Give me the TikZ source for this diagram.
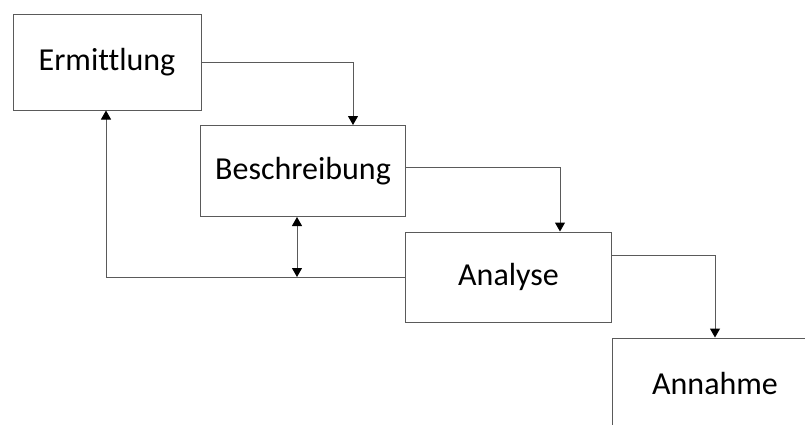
\documentclass[tikz,border=0pt]{standalone}
\usepackage{fontspec}
\setmainfont[RawFeature=-liga]{Carlito}
\usetikzlibrary{arrows.meta}
\definecolor{linegray}{HTML}{5A5A5A}
\begin{document}
\begin{tikzpicture}[x=1pt,y=-1pt,
  tip/.tip={Triangle[length=9pt,width=10pt,color=black]},
  stagebox/.style={draw=linegray, line width=1pt, fill=white, minimum width=#1,
    inner sep=0pt, font=\fontsize{32}{36}\selectfont, text=black},
  flow/.style={draw=linegray, line width=1pt, -tip},
  both/.style={draw=linegray, line width=1pt, tip-tip}]
  \useasboundingbox (0,0) rectangle (805,424);
  \clip (0,0) rectangle (805,424);
  % process stages
  \node[stagebox=188pt, minimum height=96pt] (E) at (107,62) {Ermittlung};
  \node[stagebox=205pt, minimum height=91pt] (B) at (303,171) {Beschreibung};
  \node[stagebox=206pt, minimum height=90pt] (A) at (508.5,277) {Analyse};
  \node[stagebox=206pt, minimum height=90pt] (N) at (715,383) {Annahme};
  % forward flow
  \draw[flow] (E.east) -| ([xshift=50pt]B.north);
  \draw[flow] ([yshift=4pt]B.east) -| ([xshift=51.5pt]A.north);
  \draw[flow] ([yshift=22pt]A.east) -| (N.north);
  % feedback to the first stage
  \draw[flow] (A.west) -| ([xshift=-1pt]E.south);
  \draw[both] ([xshift=-6pt]B.south) -- ([xshift=-6pt]B.south |- A.west);
\end{tikzpicture}
\end{document}
